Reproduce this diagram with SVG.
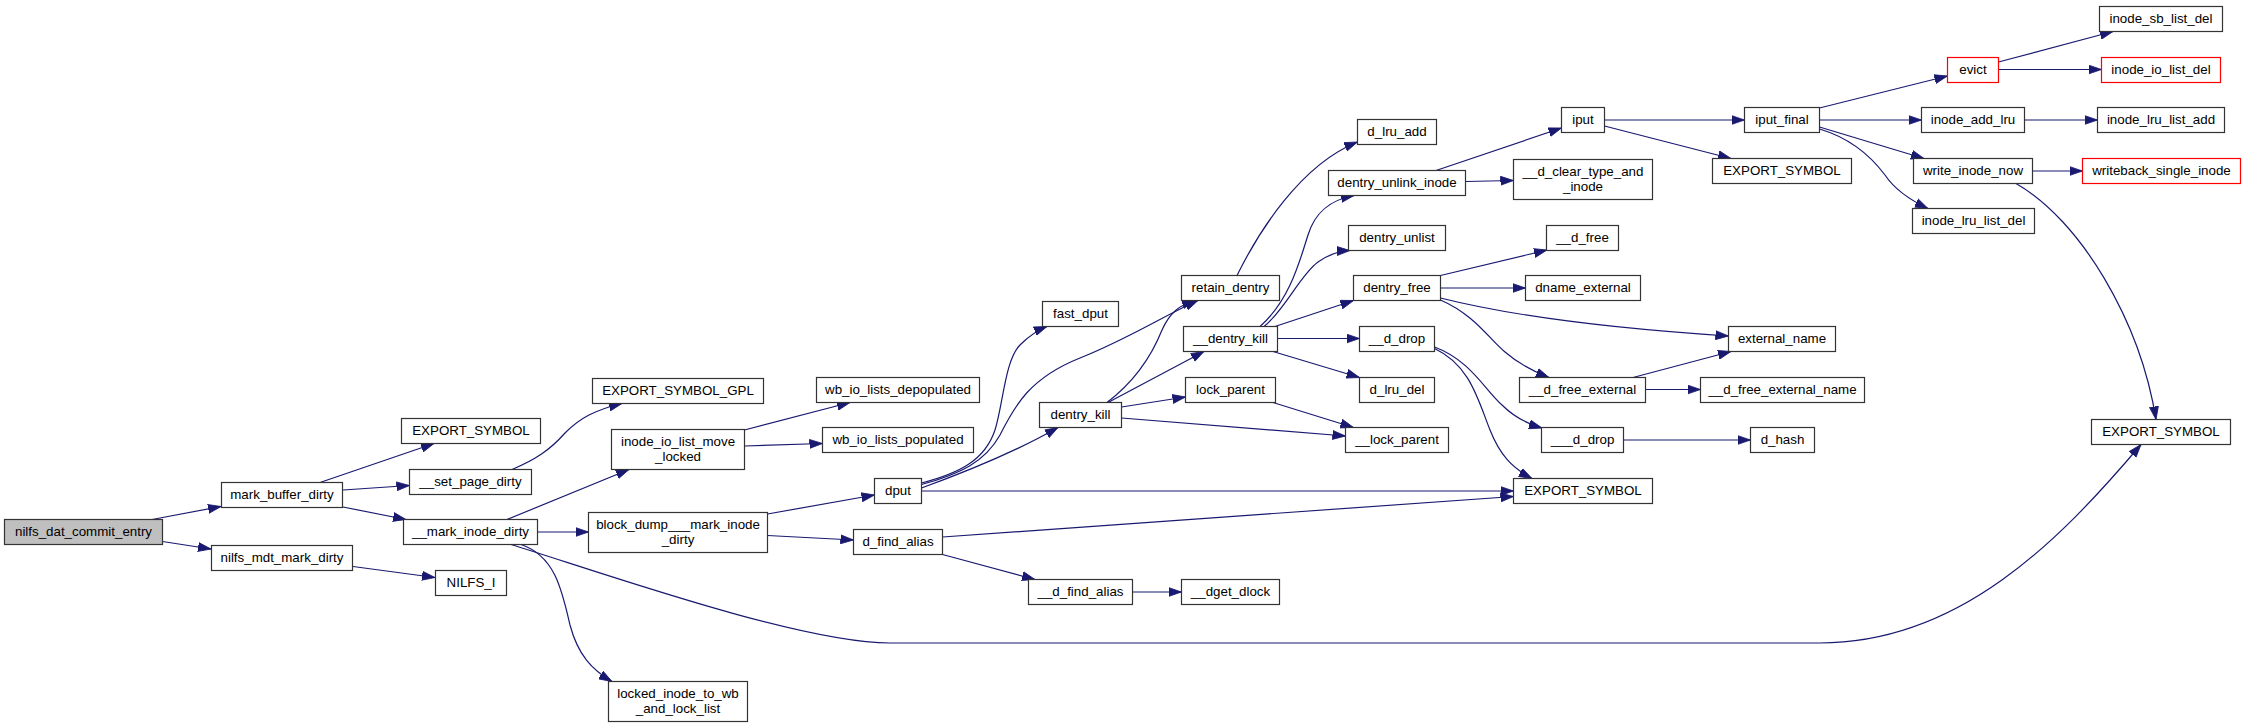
<svg xmlns="http://www.w3.org/2000/svg" width="2245" height="727" viewBox="0 0 2245 727">
<style>
.n rect{fill:#fff;stroke:#333;stroke-width:1.2}
.root rect{fill:#bfbfbf}
.red rect{stroke:#ff0000}
text{font-family:"Liberation Sans",Arial,Helvetica,sans-serif;font-size:13.33px;text-anchor:middle;fill:#000}
.e path{fill:none;stroke:#191970;stroke-width:1.2;marker-end:url(#ah)}
</style>
<defs>
<marker id="ah" viewBox="0 0 13 10" refX="13" refY="5" markerWidth="13" markerHeight="10" markerUnits="userSpaceOnUse" orient="auto">
<path d="M0,0.5 L13,5 L0,9.5 Z" fill="#191970" stroke="#191970" stroke-width="0.8"/>
</marker>
</defs>
<rect width="2245" height="727" fill="#fff"/>
<g id="connectors" class="e">
<path d="M152,519.5 L221,506.5"/>
<path d="M162.5,541.5 L211,549"/>
<path d="M320,482.5 L434,443.5"/>
<path d="M343,490 L409.5,485.5"/>
<path d="M343,507 L406,519.5"/>
<path d="M353,566.5 L435,577.5"/>
<path d="M512,469.5 C535,460 550,450 565,433 C580,418 595,410 622,403.5"/>
<path d="M507,519.5 L629,469.5"/>
<path d="M537.5,532 L588.5,532"/>
<path d="M521,544.5 C555,556 562,590 570,625 C578,655 592,670 612,681.5"/>
<path d="M511,544.5 C600,572 800,643 890,643 L1820,643 C1960,643 2060,540 2141,444.5"/>
<path d="M744.5,430 L850,402.5"/>
<path d="M744.5,446 L822.5,443.5"/>
<path d="M767.5,514 L874.5,495"/>
<path d="M767.5,535.5 L853.5,540"/>
<path d="M921.5,483 C960,473 985,460 995,430 C1003,405 1005,360 1020,345 C1030,335 1038,330 1047,326.5"/>
<path d="M921.5,484.5 C960,474 985,462 1000,435 C1015,405 1030,378 1080,358 C1130,338 1165,315 1198,300.5"/>
<path d="M921.5,488 C960,474 1010,455 1058,427.5"/>
<path d="M921.5,491 L1513.5,491"/>
<path d="M942.5,537 L1513.5,496.5"/>
<path d="M942.5,554.5 L1035,579.5"/>
<path d="M1132.5,592 L1181.5,592"/>
<path d="M1107,402.5 C1130,385 1150,360 1162,330 C1170,312 1180,305 1195,300.5"/>
<path d="M1108,402.5 L1204,351.5"/>
<path d="M1121.5,407 L1185.5,397"/>
<path d="M1121.5,418 L1345.5,436"/>
<path d="M1273,402.5 L1353.5,427.5"/>
<path d="M1237,275.5 C1258,233 1300,165 1357.5,142"/>
<path d="M1260,326.5 C1290,300 1300,260 1308,235 C1315,212 1330,200 1354,195.5"/>
<path d="M1264,326.5 C1285,310 1300,275 1318,262 C1328,255 1338,251 1350,250.5"/>
<path d="M1275,326.5 L1353.5,300.5"/>
<path d="M1277.5,338.5 L1359.5,338.5"/>
<path d="M1273,351.5 L1359.5,377.5"/>
<path d="M1440.5,275.5 L1547,250"/>
<path d="M1440.5,288 L1525.5,288"/>
<path d="M1440.5,298 C1520,318 1620,329 1728.5,336"/>
<path d="M1440.5,300 C1475,315 1490,340 1505,352 C1520,365 1535,372 1549,377.5"/>
<path d="M1434.5,347 C1470,360 1485,390 1502,405 C1515,418 1528,424 1542,428"/>
<path d="M1434.5,348.5 C1470,365 1478,400 1490,430 C1500,455 1512,468 1532,478.5"/>
<path d="M1633,377.5 L1731,351.5"/>
<path d="M1645.5,389.5 L1700.5,389.5"/>
<path d="M1623.5,440 L1750.5,440"/>
<path d="M1436,170.5 L1561.5,128"/>
<path d="M1465.5,181.5 L1513.5,180.5"/>
<path d="M1604.5,120 L1744.5,120"/>
<path d="M1604.5,126 L1731,158.5"/>
<path d="M1819.5,108 L1947.5,76"/>
<path d="M1819.5,120 L1921.5,120"/>
<path d="M1819.5,127 L1924,158.5"/>
<path d="M1819.5,129 C1850,138 1870,155 1885,175 C1895,190 1910,200 1928,208.5"/>
<path d="M1998.5,62 L2113,31.5"/>
<path d="M1998.5,69.5 L2101.5,69.5"/>
<path d="M2024.5,120 L2097.5,120"/>
<path d="M2032.5,171 L2082.5,171"/>
<path d="M2016,183.5 C2080,220 2140,320 2156,419.5"/>
</g>
<g id="n1" class="n root"><rect x="4.5" y="519.5" width="158" height="25"/><text x="83.5" y="536">nilfs_dat_commit_entry</text></g>
<g id="n2" class="n"><rect x="221.5" y="482.5" width="121" height="25"/><text x="282" y="499">mark_buffer_dirty</text></g>
<g id="n3" class="n"><rect x="211.5" y="545.5" width="141" height="25"/><text x="282" y="562">nilfs_mdt_mark_dirty</text></g>
<g id="n4" class="n"><rect x="401.5" y="418.5" width="139" height="25"/><text x="471" y="435">EXPORT_SYMBOL</text></g>
<g id="n5" class="n"><rect x="409.5" y="469.5" width="122" height="25"/><text x="470.5" y="486">__set_page_dirty</text></g>
<g id="n6" class="n"><rect x="403.5" y="519.5" width="134" height="25"/><text x="470.5" y="536">__mark_inode_dirty</text></g>
<g id="n7" class="n"><rect x="435.5" y="570.5" width="71" height="25"/><text x="471" y="587">NILFS_I</text></g>
<g id="n8" class="n"><rect x="592.5" y="378.5" width="171" height="25"/><text x="678" y="395">EXPORT_SYMBOL_GPL</text></g>
<g id="n9" class="n"><rect x="611.5" y="429.5" width="133" height="40"/><text x="678" y="445.5">inode_io_list_move</text><text x="678" y="460.5">_locked</text></g>
<g id="n10" class="n"><rect x="588.5" y="512.5" width="179" height="40"/><text x="678" y="528.5">block_dump___mark_inode</text><text x="678" y="543.5">_dirty</text></g>
<g id="n11" class="n"><rect x="608.5" y="681.5" width="139" height="40"/><text x="678" y="697.5">locked_inode_to_wb</text><text x="678" y="712.5">_and_lock_list</text></g>
<g id="n12" class="n"><rect x="816.5" y="377.5" width="163" height="25"/><text x="898" y="394">wb_io_lists_depopulated</text></g>
<g id="n13" class="n"><rect x="822.5" y="427.5" width="151" height="25"/><text x="898" y="444">wb_io_lists_populated</text></g>
<g id="n14" class="n"><rect x="874.5" y="478.5" width="47" height="25"/><text x="898" y="495">dput</text></g>
<g id="n15" class="n"><rect x="853.5" y="529.5" width="89" height="25"/><text x="898" y="546">d_find_alias</text></g>
<g id="n16" class="n"><rect x="1042.5" y="301.5" width="76" height="25"/><text x="1080.5" y="318">fast_dput</text></g>
<g id="n17" class="n"><rect x="1039.5" y="402.5" width="82" height="25"/><text x="1080.5" y="419">dentry_kill</text></g>
<g id="n18" class="n"><rect x="1028.5" y="579.5" width="104" height="25"/><text x="1080.5" y="596">__d_find_alias</text></g>
<g id="n19" class="n"><rect x="1181.5" y="275.5" width="98" height="25"/><text x="1230.5" y="292">retain_dentry</text></g>
<g id="n20" class="n"><rect x="1183.5" y="326.5" width="94" height="25"/><text x="1230.5" y="343">__dentry_kill</text></g>
<g id="n21" class="n"><rect x="1185.5" y="377.5" width="90" height="25"/><text x="1230.5" y="394">lock_parent</text></g>
<g id="n22" class="n"><rect x="1181.5" y="579.5" width="98" height="25"/><text x="1230.5" y="596">__dget_dlock</text></g>
<g id="n23" class="n"><rect x="1357.5" y="119.5" width="79" height="25"/><text x="1397" y="136">d_lru_add</text></g>
<g id="n24" class="n"><rect x="1328.5" y="170.5" width="137" height="25"/><text x="1397" y="187">dentry_unlink_inode</text></g>
<g id="n25" class="n"><rect x="1348.5" y="225.5" width="97" height="25"/><text x="1397" y="242">dentry_unlist</text></g>
<g id="n26" class="n"><rect x="1353.5" y="275.5" width="87" height="25"/><text x="1397" y="292">dentry_free</text></g>
<g id="n27" class="n"><rect x="1359.5" y="326.5" width="75" height="25"/><text x="1397" y="343">__d_drop</text></g>
<g id="n28" class="n"><rect x="1359.5" y="377.5" width="75" height="25"/><text x="1397" y="394">d_lru_del</text></g>
<g id="n29" class="n"><rect x="1345.5" y="427.5" width="103" height="25"/><text x="1397" y="444">__lock_parent</text></g>
<g id="n30" class="n"><rect x="1561.5" y="107.5" width="43" height="25"/><text x="1583" y="124">iput</text></g>
<g id="n31" class="n"><rect x="1513.5" y="159.5" width="139" height="40"/><text x="1583" y="175.5">__d_clear_type_and</text><text x="1583" y="190.5">_inode</text></g>
<g id="n32" class="n"><rect x="1546.5" y="225.5" width="72" height="25"/><text x="1582.5" y="242">__d_free</text></g>
<g id="n33" class="n"><rect x="1525.5" y="275.5" width="115" height="25"/><text x="1583" y="292">dname_external</text></g>
<g id="n34" class="n"><rect x="1519.5" y="377.5" width="126" height="25"/><text x="1582.5" y="394">__d_free_external</text></g>
<g id="n35" class="n"><rect x="1541.5" y="427.5" width="82" height="25"/><text x="1582.5" y="444">___d_drop</text></g>
<g id="n36" class="n"><rect x="1513.5" y="478.5" width="139" height="25"/><text x="1583" y="495">EXPORT_SYMBOL</text></g>
<g id="n37" class="n"><rect x="1744.5" y="107.5" width="75" height="25"/><text x="1782" y="124">iput_final</text></g>
<g id="n38" class="n"><rect x="1712.5" y="158.5" width="139" height="25"/><text x="1782" y="175">EXPORT_SYMBOL</text></g>
<g id="n39" class="n"><rect x="1728.5" y="326.5" width="107" height="25"/><text x="1782" y="343">external_name</text></g>
<g id="n40" class="n"><rect x="1700.5" y="377.5" width="164" height="25"/><text x="1782.5" y="394">__d_free_external_name</text></g>
<g id="n41" class="n"><rect x="1750.5" y="427.5" width="64" height="25"/><text x="1782.5" y="444">d_hash</text></g>
<g id="n42" class="n red"><rect x="1947.5" y="57.5" width="51" height="25"/><text x="1973" y="74">evict</text></g>
<g id="n43" class="n"><rect x="1921.5" y="107.5" width="103" height="25"/><text x="1973" y="124">inode_add_lru</text></g>
<g id="n44" class="n"><rect x="1913.5" y="158.5" width="119" height="25"/><text x="1973" y="175">write_inode_now</text></g>
<g id="n45" class="n"><rect x="1912.5" y="208.5" width="122" height="25"/><text x="1973.5" y="225">inode_lru_list_del</text></g>
<g id="n46" class="n"><rect x="2099.5" y="6.5" width="123" height="25"/><text x="2161" y="23">inode_sb_list_del</text></g>
<g id="n47" class="n red"><rect x="2101.5" y="57.5" width="119" height="25"/><text x="2161" y="74">inode_io_list_del</text></g>
<g id="n48" class="n"><rect x="2097.5" y="107.5" width="127" height="25"/><text x="2161" y="124">inode_lru_list_add</text></g>
<g id="n49" class="n red"><rect x="2082.5" y="158.5" width="158" height="25"/><text x="2161.5" y="175">writeback_single_inode</text></g>
<g id="n50" class="n"><rect x="2091.5" y="419.5" width="139" height="25"/><text x="2161" y="436">EXPORT_SYMBOL</text></g>
</svg>
